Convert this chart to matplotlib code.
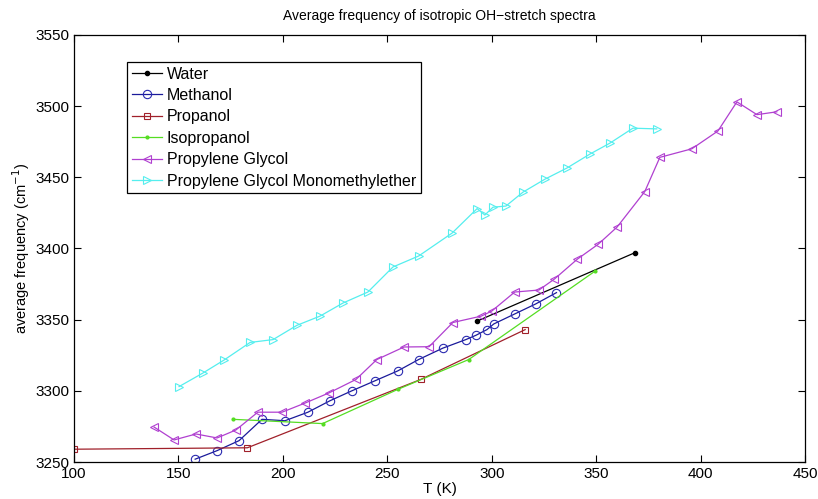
import matplotlib
matplotlib.use("Agg")
import matplotlib.pyplot as plt

plt.rcParams['font.family'] = ['Liberation Sans', 'DejaVu Sans']

# ---- data ----
water_T = [293, 368.5]
water_f = [3349, 3397]

methanol_T = [158, 168.5, 179, 190, 201, 212, 222.5, 233, 244, 255, 265, 276.6, 287.6, 292.4, 297.7, 301, 311, 321, 331]
methanol_f = [3252, 3258, 3265, 3280, 3279, 3285, 3293, 3300, 3307, 3314, 3322, 3330, 3336, 3339, 3343, 3347, 3354, 3361, 3369]

propanol_T = [100, 183, 266, 316]
propanol_f = [3259, 3260, 3308, 3343]

isopropanol_T = [176, 219, 255, 289, 349.4]
isopropanol_f = [3280, 3277, 3301, 3322, 3384]

pg_T = [138.3, 147.9, 158.4, 168.5, 177.5, 188, 199.6, 210.6, 222, 235, 245, 258, 270, 281.4, 295, 300,
        311, 322.6, 330, 341, 351, 360, 373.3, 380.5, 395.8, 408.3, 417.4, 427, 436.5]
pg_f = [3274.6, 3265.5, 3269.7, 3266.9, 3272.5, 3285, 3285, 3291.4, 3298.5, 3308, 3322, 3330.8, 3331, 3348, 3352.5, 3356,
        3369.4, 3370.8, 3378.5, 3392.5, 3403, 3415, 3440, 3464, 3470, 3482.5, 3503, 3494, 3496]

pgme_T = [150.3, 161.7, 171.8, 184.3, 195.3, 206.7, 217.8, 228.8, 240.7, 252.7, 265, 281, 293, 296.7, 300.6,
          306.8, 315, 325.5, 336, 347, 356.6, 367.6, 379]
pgme_f = [3303, 3312.5, 3321.6, 3334, 3336, 3346, 3352.5, 3361.7, 3369.4, 3387, 3394.7, 3410.8, 3428, 3423.5, 3429,
          3429.8, 3439.6, 3448.7, 3456.5, 3466.3, 3474, 3484.5, 3484]

labels = ['Water', 'Methanol', 'Propanol', 'Isopropanol', 'Propylene Glycol',
          'Propylene Glycol Monomethylether']
x_ticks = [100, 150, 200, 250, 300, 350, 400, 450]
y_ticks = [3250, 3300, 3350, 3400, 3450, 3500, 3550]

fig = plt.figure(figsize=(8.18, 4.99), dpi=100)
ax = fig.add_axes([0.0905, 0.0741, 0.8936, 0.8559])

lw = 0.9
ax.plot(water_T, water_f, '-', marker='.', color='black', lw=lw, ms=6, label=labels[0])
ax.plot(methanol_T, methanol_f, '-', marker='o', color='#1a1a9a', lw=lw, ms=6,
        mfc='none', mec='#2a2ab0', mew=0.8, label=labels[1])
ax.plot(propanol_T, propanol_f, '-', marker='s', color='#a0202a', lw=lw, ms=5,
        mfc='none', mew=0.8, label=labels[2])
ax.plot(isopropanol_T, isopropanol_f, '-', marker='.', color='#55dd22', lw=lw, ms=4, label=labels[3])
ax.plot(pg_T, pg_f, '-', marker='<', color='#b040d0', lw=lw, ms=6,
        mfc='none', mew=0.8, label=labels[4])
ax.plot(pgme_T, pgme_f, '-', marker='>', color='#55eeee', lw=lw, ms=6,
        mfc='none', mew=0.8, label=labels[5])

ax.set_xlim(100, 450)
ax.set_ylim(3250, 3550)
ax.set_xticks(x_ticks)
ax.set_yticks(y_ticks)
ax.tick_params(direction='in', top=True, right=True, labelsize=11, length=5, width=0.8)
for s in ax.spines.values():
    s.set_linewidth(0.9)

ax.set_title('Average frequency of isotropic OH\u2212stretch spectra', fontsize=10, pad=11)
ax.set_xlabel('T (K)', fontsize=11, labelpad=1)
ax.set_ylabel('average frequency (cm$^{-1}$)', fontsize=10.5, labelpad=2)

leg = ax.legend(loc='upper left', bbox_to_anchor=(0.0725, 0.937), borderaxespad=0,
                fancybox=False, edgecolor='black', framealpha=1, fontsize=11.5,
                handlelength=1.9, handletextpad=0.3, labelspacing=0.4, borderpad=0.3)
leg.get_frame().set_linewidth(0.9)

fig.savefig('out.png', dpi=100)
